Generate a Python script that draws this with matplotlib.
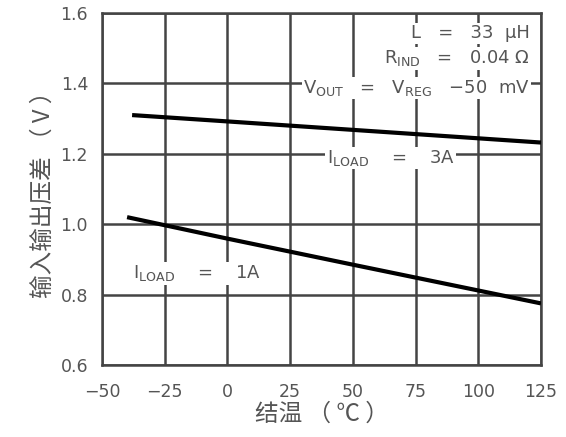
import numpy as np
import matplotlib.pyplot as plt

# data
temp_3a = [-38, 0, 50, 125]
vdrop_3a = [1.31, 1.292, 1.268, 1.232]
temp_1a = [-40, 0, 50, 125]
vdrop_1a = [1.02, 0.959, 0.885, 0.775]

xticks = [-50, -25, 0, 25, 50, 75, 100, 125]
yticks = [0.6, 0.8, 1.0, 1.2, 1.4, 1.6]

plt.rcParams['font.family'] = ['DejaVu Sans']
plt.rcParams['mathtext.fontset'] = 'dejavusans'

fig = plt.figure(figsize=(5.66, 4.37), dpi=100)
ax = fig.add_axes([102 / 566, 1 - 365 / 437, 439 / 566, 352 / 437])

grey = '#555555'
ax.plot(temp_3a, vdrop_3a, color='black', lw=3, solid_capstyle='butt', zorder=3)
ax.plot(temp_1a, vdrop_1a, color='black', lw=3, solid_capstyle='butt', zorder=3)

ax.set_xlim(-50, 125)
ax.set_ylim(0.6, 1.6)
ax.set_xticks(xticks)
ax.set_yticks(yticks)
ax.set_xticklabels(['\u221250', '\u221225', '0', '25', '50', '75', '100', '125'])
ax.set_yticklabels(['0.6', '0.8', '1.0', '1.2', '1.4', '1.6'])
ax.tick_params(length=0, labelsize=12.5, labelcolor=grey)
ax.tick_params(axis='x', pad=13)
ax.tick_params(axis='y', pad=10)
ax.grid(True, color='#444444', lw=1.8, zorder=1)
for s in ax.spines.values():
    s.set_color('#444444')
    s.set_linewidth(1.8)

box = dict(facecolor='white', edgecolor='none', pad=1)
fs = 13
ax.text(120.5, 1.543, 'L   =   33  \u03bcH', ha='right', va='center', fontsize=fs,
        color=grey, bbox=box, zorder=4)
ax.text(120.5, 1.472, '$\\mathregular{R_{IND}}$   =   0.04 \u03a9', ha='right', va='center',
        fontsize=fs, color=grey, bbox=box, zorder=4)
ax.text(120.5, 1.387, '$\\mathregular{V_{OUT}}$   =   $\\mathregular{V_{REG}}$   \u221250  mV',
        ha='right', va='center', fontsize=fs, color=grey, bbox=box, zorder=4)
ax.text(65, 1.188, '$\\mathregular{I_{LOAD}}$    =    3A', ha='center', va='center',
        fontsize=fs, color=grey, bbox=box, zorder=4)
ax.text(-12, 0.86, '$\\mathregular{I_{LOAD}}$    =    1A', ha='center', va='center',
        fontsize=fs, color=grey, bbox=box, zorder=4)

cjk = ['Noto Sans CJK SC', 'DejaVu Sans']
ax.set_xlabel('结温 （ ℃ ）', family=cjk, fontsize=17, color=grey, labelpad=1)
ax.set_ylabel('输入输出压差 （ V ）', family=cjk, fontsize=17, color=grey, labelpad=4)

fig.savefig('out.png', dpi=100)
